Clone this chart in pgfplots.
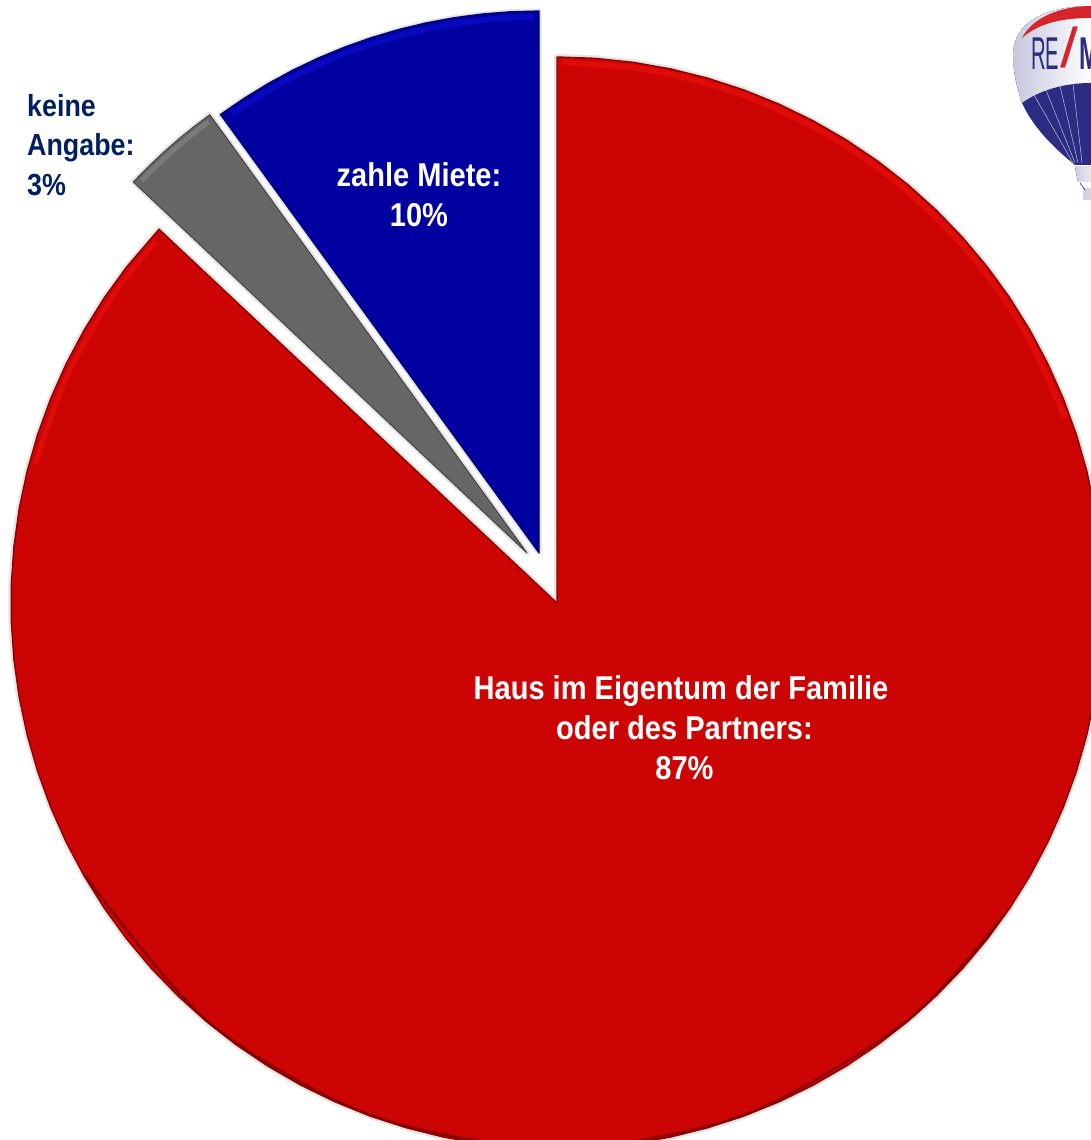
\documentclass[border=0pt]{standalone}
\usepackage{pgfplots}
\pgfplotsset{compat=1.18}
\usepackage{fontspec}
\setmainfont{Liberation Sans}[FakeStretch=0.88]
\definecolor{redmain}{HTML}{CC0504}
\definecolor{redlite}{HTML}{DE0B09}
\definecolor{reddark}{HTML}{8E0000}
\definecolor{bluemain}{HTML}{0000A0}
\definecolor{bluelite}{HTML}{0808BE}
\definecolor{bluedark}{HTML}{00006A}
\definecolor{greymain}{HTML}{666666}
\definecolor{greylite}{HTML}{7A7A7A}
\definecolor{greydark}{HTML}{444444}
\definecolor{navy}{HTML}{002060}
\definecolor{balblue}{HTML}{2B2C82}
\definecolor{balred}{HTML}{D5242C}
\def\redwedge{(0,0) (90,546) (86,546) (82,546) (78,546) (74,546) (70,546) (66,546) (62,546) (58,546) (54,546) (50,546) (46,546) (42,546) (38,546) (34,546) (30,546) (26,546) (22,546) (18,546) (14,546) (10,546) (6,546) (2,546) (-2,546) (-6,546) (-10,546) (-14,546) (-18,546) (-22,546) (-26,546) (-30,546) (-34,546) (-38,546) (-42,546) (-46,546) (-50,546) (-54,546) (-58,546) (-62,546) (-66,546) (-70,546) (-74,546) (-78,546) (-82,546) (-86,546) (-90,546) (-94,546) (-98,546) (-102,546) (-106,546) (-110,546) (-114,546) (-118,546) (-122,546) (-126,546) (-130,546) (-134,546) (-138,546) (-142,546) (-146,546) (-150,546) (-154,546) (-158,546) (-162,546) (-166,546) (-170,546) (-174,546) (-178,546) (-182,546) (-186,546) (-190,546) (-194,546) (-198,546) (-202,546) (-206,546) (-210,546) (-214,546) (-218,546) (-223.2,546)}
\def\bluewedge{(0,0) (126,542) (123,542) (120,542) (117,542) (114,542) (111,542) (108,542) (105,542) (102,542) (99,542) (96,542) (93,542) (90,542)}
\def\greywedge{(0,0) (125.9,541) (128,541) (130,541) (132,541) (134,541) (136.7,541)}
\begin{document}
\begin{tikzpicture}
\clip (0,0) rectangle (1091pt,1140pt);
\begin{axis}[
  at={(0,0)}, anchor=south west,
  scale only axis, width=1091pt, height=1140pt,
  xmin=0, xmax=1091, ymin=0, ymax=1140,
  hide axis, no markers, clip=true]

% red slice: 87 %  (apex at 557,537)
\addplot[data cs=polar, shift={(557pt,537pt)}, draw=black, draw opacity=0.10, line width=6pt, line join=round] coordinates {\redwedge} -- cycle;
\addplot[data cs=polar, shift={(557pt,537pt)}, fill=redmain, draw=reddark, line width=1.4pt, line join=round] coordinates {\redwedge} -- cycle;
\addplot[data cs=polar, shift={(557pt,537pt)}, smooth, redlite, line width=6pt] coordinates {(89.4,541) (80,541) (70,541) (60,541) (50,541) (40,541) (30,541) (20,541)};
\addplot[data cs=polar, shift={(557pt,537pt)}, smooth, redlite, line width=5pt] coordinates {(138,540) (145,540) (155,540) (165,540)};
\addplot[data cs=polar, shift={(557pt,537pt)}, smooth, reddark, line width=2.6pt] coordinates {(-35,545) (-50,545) (-70,545) (-90,545) (-110,545) (-130,545) (-150,545)};

% blue slice: 10 %  (apex at 539,587)
\addplot[data cs=polar, shift={(539pt,587pt)}, draw=black, draw opacity=0.10, line width=5pt, line join=round] coordinates {\bluewedge} -- cycle;
\addplot[data cs=polar, shift={(539pt,587pt)}, fill=bluemain, draw=bluedark, line width=1.2pt, line join=round] coordinates {\bluewedge} -- cycle;
\addplot[data cs=polar, shift={(539pt,587pt)}, smooth, bluelite, line width=6pt] coordinates {(125,536) (118,536) (110,536) (102,536) (95,536) (90.6,536)};

% grey slice: 3 %  (apex at 527,587)
\addplot[data cs=polar, shift={(527pt,587pt)}, draw=black, draw opacity=0.10, line width=5pt, line join=round] coordinates {\greywedge} -- cycle;
\addplot[data cs=polar, shift={(527pt,587pt)}, fill=greymain, draw=greydark, line width=1pt, line join=round] coordinates {\greywedge} -- cycle;
\addplot[data cs=polar, shift={(527pt,587pt)}, greylite, line width=5pt] coordinates {(126.4,536) (128,536) (130,536) (132,536) (134,536) (136,536)};

% labels
\node[text=white, align=center, font=\bfseries\fontsize{33}{40}\selectfont] at (axis cs:681,412) {Haus im Eigentum der Familie\\\hspace*{7pt}oder des Partners:\\\hspace*{7pt}87\%};
\node[text=white, align=center, font=\bfseries\fontsize{33}{40}\selectfont] at (axis cs:419,945) {zahle Miete:\\10\%};
\node[text=navy, align=left, anchor=west, font=\bfseries\fontsize{30.5}{39.5}\selectfont, inner sep=0pt] at (axis cs:27,995) {keine\\Angabe:\\3\%};

% balloon logo
\fill[left color=white!65!balblue!75, right color=white] (axis cs:1091,1134) .. controls (axis cs:1050,1134) and (axis cs:1013,1120) .. (axis cs:1013,1085) .. controls (axis cs:1013,1065) and (axis cs:1018,1050) .. (axis cs:1022,1037) -- (axis cs:1091,1030) -- cycle;
\fill[balred] (axis cs:1022,1102) .. controls (axis cs:1032,1122) and (axis cs:1060,1134) .. (axis cs:1091,1134) -- (axis cs:1091,1122) .. controls (axis cs:1065,1122) and (axis cs:1040,1118) .. cycle;
\fill[balblue] (axis cs:1022,1037) .. controls (axis cs:1040,1050) and (axis cs:1065,1057) .. (axis cs:1091,1057) -- (axis cs:1091,975) -- (axis cs:1075,975) .. controls (axis cs:1050,995) and (axis cs:1032,1015) .. cycle;
\draw[white!70!balblue, line width=0.5pt] (axis cs:1034,1045) -- (axis cs:1073,977) (axis cs:1046,1050) -- (axis cs:1075,977) (axis cs:1060,1054) -- (axis cs:1078,977) (axis cs:1073,1056) -- (axis cs:1082,977);
\fill[left color=white!60!balblue!60, right color=white!80!balblue!50] (axis cs:1075,973) -- (axis cs:1091,973) -- (axis cs:1091,958) -- (axis cs:1078,958) -- cycle;
\fill[white!70!balblue!70] (axis cs:1083,952) rectangle (axis cs:1091,940);
\draw[balblue, line width=0.6pt] (axis cs:1080,957) -- (axis cs:1085,950);
\node[text=balblue, anchor=west, inner sep=0pt, font=\fontsize{46}{46}\selectfont, xscale=0.5] at (axis cs:1031,1086) {RE};
\node[text=balred, anchor=center, inner sep=0pt, font=\fontsize{56}{56}\selectfont, xscale=1.3] at (axis cs:1069,1092) {/};
\node[text=balblue, anchor=west, inner sep=0pt, font=\bfseries\fontsize{46}{46}\selectfont, xscale=0.6] at (axis cs:1079,1086) {M};
\end{axis}
\end{tikzpicture}
\end{document}
